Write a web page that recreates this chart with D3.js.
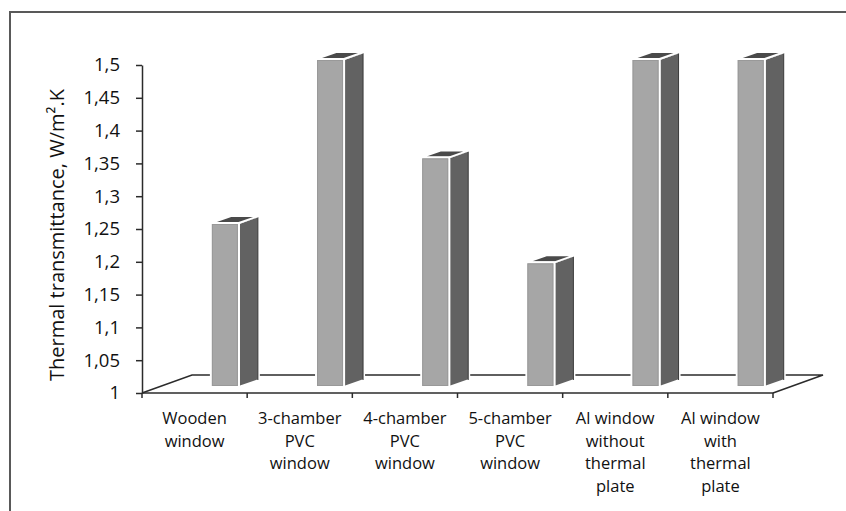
<!DOCTYPE html>
<html>
<head>
<meta charset="utf-8">
<script src="https://cdn.jsdelivr.net/npm/d3@7"></script>
<style>
  body { margin: 0; background: #fff; }
  svg text { font-family: "Open Sans", sans-serif; fill: #111; }
</style>
</head>
<body>
<div id="chart"></div>
<script>
// data
const categories = [
  ["Wooden", "window"],
  ["3-chamber", "PVC", "window"],
  ["4-chamber", "PVC", "window"],
  ["5-chamber", "PVC", "window"],
  ["Al window", "without", "thermal", "plate"],
  ["Al window", "with", "thermal", "plate"]
];
const values = [1.25, 1.5, 1.35, 1.19, 1.5, 1.5];
const yTicks = [1, 1.05, 1.1, 1.15, 1.2, 1.25, 1.3, 1.35, 1.4, 1.45, 1.5];
const yTitle = "Thermal transmittance, W/m\u00B2.K";

const W = 846, H = 511;
const plotLeft = 142, plotRight = 773, plotBase = 393, plotTop = 65;
const floorDx = 50, floorDy = -18;   // floor depth
const barDx = 20, barDy = -7;        // bar depth
const barLift = 6;                   // bars sit a bit behind the front edge

const svg = d3.select("#chart").append("svg")
  .attr("width", W).attr("height", H);

// outer frame
svg.append("rect")
  .attr("x", 10).attr("y", 12)
  .attr("width", W).attr("height", H)
  .attr("fill", "none").attr("stroke", "#595959").attr("stroke-width", 2);

const ids = categories.map((d, i) => i);
const x = d3.scaleBand().domain(ids).range([plotLeft, plotRight]);
const y = d3.scaleLinear().domain([1, 1.5]).range([plotBase, plotTop]);

// floor (back edge + sides)
const floor = svg.append("g")
  .attr("fill", "none").attr("stroke", "#2b2b2b").attr("stroke-width", 1.5);
floor.append("path")
  .attr("d", `M${plotLeft},${plotBase}L${plotLeft + floorDx},${plotBase + floorDy}L${plotRight + floorDx},${plotBase + floorDy}L${plotRight},${plotBase}`);

// bars
const bw = x.bandwidth();
const bars = svg.append("g").selectAll("g")
  .data(values)
  .join("g");

bars.each(function(v, i) {
  const g = d3.select(this);
  const x0 = x(i) + bw * 0.655, x1 = x0 + 28;
  const yt = y(v) - barLift, yb = y(1) - barLift;
  // side
  g.append("path")
    .attr("d", `M${x1},${yt}L${x1 + barDx},${yt + barDy}L${x1 + barDx},${yb + barDy}L${x1},${yb}Z`)
    .attr("fill", "#626262").attr("stroke", "#fff").attr("stroke-width", 2).attr("stroke-linejoin", "round");
  g.append("path")
    .attr("d", `M${x1 + 1.5},${yt - 0.5}L${x1 + barDx - 1},${yt + barDy + 1}L${x1 + barDx - 1},${yb + barDy}`)
    .attr("fill", "none").attr("stroke", "#3a3a3a").attr("stroke-width", 1);
  // top
  g.append("path")
    .attr("d", `M${x0},${yt}L${x0 + barDx},${yt + barDy}L${x1 + barDx},${yt + barDy}L${x1},${yt}Z`)
    .attr("fill", "#4a4a4a").attr("stroke", "#fff").attr("stroke-width", 2).attr("stroke-linejoin", "round");
  // front
  g.append("rect")
    .attr("x", x0).attr("y", yt)
    .attr("width", x1 - x0).attr("height", yb - yt)
    .attr("fill", "#a6a6a6").attr("stroke", "#fff").attr("stroke-width", 2);
  g.append("rect")
    .attr("x", x0 + 1.5).attr("y", yt + 1.5)
    .attr("width", x1 - x0 - 3).attr("height", yb - yt - 3)
    .attr("fill", "none").attr("stroke", "#999").attr("stroke-width", 1);
});

// y axis
const yAxis = svg.append("g")
  .attr("transform", `translate(${plotLeft},0)`)
  .call(d3.axisLeft(y).tickValues(yTicks).tickSize(6).tickSizeOuter(0)
    .tickFormat(d => String(d).replace(".", ",")));
yAxis.select(".domain").attr("stroke", "#2b2b2b").attr("stroke-width", 1.5);
yAxis.selectAll(".tick line").attr("stroke", "#2b2b2b").attr("stroke-width", 1.5);
yAxis.selectAll(".tick text")
  .attr("x", -22)
  .style("font-family", "'Open Sans', sans-serif")
  .style("font-size", "18.5px")
  .attr("fill", "#111");

// x axis (front floor edge)
const xAxis = svg.append("g")
  .attr("transform", `translate(0,${plotBase})`);
xAxis.append("line")
  .attr("x1", plotLeft).attr("x2", plotRight)
  .attr("stroke", "#2b2b2b").attr("stroke-width", 1.5);
xAxis.selectAll(".xt")
  .data(ids.concat([ids.length]))
  .join("line")
  .attr("class", "xt")
  .attr("x1", i => i < ids.length ? x(i) : plotRight)
  .attr("x2", i => i < ids.length ? x(i) : plotRight)
  .attr("y1", 0).attr("y2", 5)
  .attr("stroke", "#2b2b2b").attr("stroke-width", 1.5);

// x labels
const labels = svg.append("g").selectAll("text")
  .data(categories)
  .join("text")
  .attr("x", (d, i) => x(i) + bw / 2)
  .attr("y", 424)
  .attr("text-anchor", "middle")
  .style("font-size", "16.5px");
labels.selectAll("tspan")
  .data(d => d)
  .join("tspan")
  .attr("x", function() { return d3.select(this.parentNode).attr("x"); })
  .attr("dy", (d, j) => j === 0 ? 0 : 22.5)
  .text(d => d);

// y title
svg.append("text")
  .attr("transform", `translate(64,${(plotTop + plotBase) / 2 + 6}) rotate(-90)`)
  .attr("text-anchor", "middle")
  .style("font-size", "20px")
  .text(yTitle);
</script>
</body>
</html>
